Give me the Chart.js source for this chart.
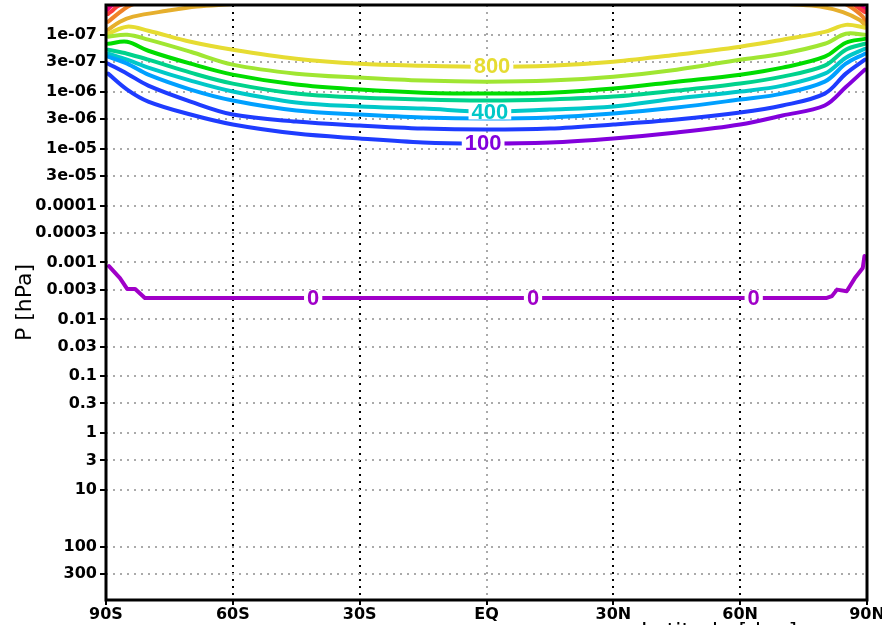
<!DOCTYPE html>
<html>
<head>
<meta charset="utf-8">
<script src="https://cdn.jsdelivr.net/npm/chart.js@4/dist/chart.umd.min.js"></script>
<style>
    html, body { margin: 0; padding: 0; background: #fff; overflow: hidden; }
    #chart { display: block; }
</style>
</head>
<body>
<canvas id="chart" width="882" height="645" style="width:882px;height:645px"></canvas>
<script>
// latitude grid the contours were read at (deg, S negative)
const lats = [-89.5, -85, -80, -70, -60, -45, -30, -15, 0, 15, 30, 45, 60, 70, 80, 85, 89.5];
const lats100 = [-89.5, -85, -80, -70, -60, -45, -30, -15, -2, 15, 30, 45, 60, 70, 80, 85, 89.5];

// contour pressures in hPa, one array per level
const p800 = [9.6e-8, 7.2e-8, 8.5e-8, 1.33e-7, 1.83e-7, 2.63e-7, 3.22e-7, 3.49e-7, 3.63e-7, 3.49e-7, 2.97e-7, 2.24e-7, 1.62e-7, 1.22e-7, 8.9e-8, 6.7e-8, 7.5e-8];
const p700 = [1.08e-7, 1.0e-7, 1.22e-7, 1.99e-7, 3.35e-7, 4.82e-7, 5.66e-7, 6.39e-7, 6.66e-7, 6.39e-7, 5.44e-7, 4.10e-7, 2.74e-7, 2.15e-7, 1.44e-7, 9.6e-8, 1.0e-7];
const p600 = [1.44e-7, 1.33e-7, 1.91e-7, 3.22e-7, 5.02e-7, 7.51e-7, 9.18e-7, 1.04e-6, 1.08e-6, 1.04e-6, 8.81e-7, 6.66e-7, 5.02e-7, 3.78e-7, 2.43e-7, 1.38e-7, 1.18e-7];
const p500 = [1.83e-7, 2.15e-7, 2.74e-7, 4.63e-7, 7.21e-7, 1.08e-6, 1.27e-6, 1.37e-6, 1.43e-6, 1.37e-6, 1.22e-6, 9.56e-7, 7.21e-7, 5.44e-7, 3.49e-7, 1.83e-7, 1.44e-7];
const p400 = [2.15e-7, 2.74e-7, 3.78e-7, 6.39e-7, 9.95e-7, 1.55e-6, 1.82e-6, 1.98e-6, 2.23e-6, 2.06e-6, 1.82e-6, 1.32e-6, 9.95e-7, 7.82e-7, 4.82e-7, 2.53e-7, 1.76e-7];
const p300 = [2.43e-7, 3.22e-7, 5.02e-7, 9.18e-7, 1.43e-6, 2.14e-6, 2.52e-6, 2.84e-6, 2.96e-6, 2.84e-6, 2.42e-6, 1.90e-6, 1.37e-6, 1.08e-6, 6.66e-7, 3.22e-7, 2.15e-7];
const p200 = [3.22e-7, 4.82e-7, 7.82e-7, 1.49e-6, 2.52e-6, 3.34e-6, 3.93e-6, 4.44e-6, 4.62e-6, 4.44e-6, 3.77e-6, 3.08e-6, 2.32e-6, 1.75e-6, 1.08e-6, 4.82e-7, 2.74e-7];
const p100 = [4.82e-7, 9.18e-7, 1.49e-6, 2.52e-6, 3.77e-6, 5.44e-6, 6.64e-6, 7.81e-6, 8.13e-6, 7.8e-6, 6.64e-6, 5.22e-6, 3.77e-6, 2.62e-6, 1.75e-6, 8.3e-7, 4.10e-7];

// the 0 contour
const lats0 = [-89.3, -86.7, -85.0, -83.1, -80.8, 80.5, 81.7, 82.9, 85.2, 87.1, 89.0, 89.4];
const p0 = [1.16e-3, 1.88e-3, 2.92e-3, 2.92e-3, 4.2e-3, 4.2e-3, 3.9e-3, 3.0e-3, 3.2e-3, 1.9e-3, 1.25e-3, 7.7e-4];

// short contours in the polar corners (900..1200), left and right pieces
const lats900L = [-89.5, -86.7, -83.6, -75.6, -68.5, -60.7];
const p900L = [8.2e-8, 5.9e-8, 4.8e-8, 3.8e-8, 3.2e-8, 2.9e-8];
const lats900R = [71.8, 78.9, 84.3, 88.3, 89.5];
const p900R = [2.9e-8, 3.2e-8, 4.0e-8, 5.5e-8, 6.7e-8];
const lats1000L = [-89.5, -86.7, -84.8, -82];
const p1000L = [5.9e-8, 4.0e-8, 3.2e-8, 2.6e-8];
const lats1000R = [83.6, 86.0, 89.0, 89.5];
const p1000R = [2.6e-8, 3.2e-8, 4.8e-8, 5.9e-8];
const lats1100L = [-89.5, -88.3, -87.4, -86];
const p1100L = [4.3e-8, 3.65e-8, 3.2e-8, 2.9e-8];
const lats1100R = [86, 87.6, 89.5];
const p1100R = [2.6e-8, 3.2e-8, 4.0e-8];
const lats1200L = [-89.7, -89, -88];
const p1200L = [3.65e-8, 3.2e-8, 2.9e-8];
const lats1200R = [88.6, 88.8, 89.5];
const p1200R = [2.9e-8, 3.2e-8, 3.5e-8];

// contour labels
const labelTexts = ['0', '0', '0', '100', '400', '800'];
const labelLats = [-41, 11, 63.2, -0.8, 0.8, 1.3];
const labelPs = [4.2e-3, 4.2e-3, 4.2e-3, 8.1e-6, 2.23e-6, 3.6e-7];
const labelColors = ['rgb(160,0,200)', 'rgb(160,0,200)', 'rgb(160,0,200)', 'rgb(130,0,220)', 'rgb(0,200,200)', 'rgb(230,220,50)'];

// axis ticks
const xTicks = [-90, -60, -30, 0, 30, 60, 90];
const xTickLabels = ['90S', '60S', '30S', 'EQ', '30N', '60N', '90N'];
const yTicks = [1e-7, 3e-7, 1e-6, 3e-6, 1e-5, 3e-5, 1e-4, 3e-4, 1e-3, 3e-3, 0.01, 0.03, 0.1, 0.3, 1, 3, 10, 100, 300];
const yTickLabels = ['1e-07', '3e-07', '1e-06', '3e-06', '1e-05', '3e-05', '0.0001', '0.0003', '0.001', '0.003',
    '0.01', '0.03', '0.1', '0.3', '1', '3', '10', '100', '300'];

function pts(xs, ys) {
    return xs.map((x, i) => ({x: x, y: ys[i]}));
}

function contour(xs, ys, color, tension) {
    return {
        data: pts(xs, ys),
        borderColor: color,
        borderWidth: 4,
        pointRadius: 0,
        tension: tension === undefined ? 0.35 : tension,
        fill: false,
        clip: 0,
        borderCapStyle: 'round',
        borderJoinStyle: 'round'
    };
}

const line100 = contour(lats100, p100, 'rgb(130,0,220)');
// left of the label the 100 line is drawn in blue
line100.segment = {
    borderColor: ctx => ctx.p1.parsed.x <= -2 ? 'rgb(30,60,255)' : 'rgb(130,0,220)'
};

const datasets = [
    contour(lats0, p0, 'rgb(160,0,200)', 0),
    line100,
    contour(lats, p200, 'rgb(30,60,255)'),
    contour(lats, p300, 'rgb(0,160,255)'),
    contour(lats, p400, 'rgb(0,200,200)'),
    contour(lats, p500, 'rgb(0,210,140)'),
    contour(lats, p600, 'rgb(0,220,0)'),
    contour(lats, p700, 'rgb(160,230,50)'),
    contour(lats, p800, 'rgb(230,220,50)'),
    contour(lats900L, p900L, 'rgb(230,175,45)'),
    contour(lats900R, p900R, 'rgb(230,175,45)'),
    contour(lats1000L, p1000L, 'rgb(240,130,40)'),
    contour(lats1000R, p1000R, 'rgb(240,130,40)'),
    contour(lats1100L, p1100L, 'rgb(250,60,60)'),
    contour(lats1100R, p1100R, 'rgb(250,60,60)'),
    contour(lats1200L, p1200L, 'rgb(240,0,130)'),
    contour(lats1200R, p1200R, 'rgb(240,0,130)')
];

// contour labels with a white box behind them, then the frame
const labelPlugin = {
    id: 'contourLabels',
    afterDatasetsDraw(chart) {
        const ctx = chart.ctx;
        const xs = chart.scales.x, ys = chart.scales.y;
        ctx.save();
        ctx.font = 'bold 22px "Liberation Sans", Arial, sans-serif';
        ctx.textAlign = 'center';
        ctx.textBaseline = 'middle';
        for (let i = 0; i < labelTexts.length; i++) {
            const px = xs.getPixelForValue(labelLats[i]);
            const py = ys.getPixelForValue(labelPs[i]);
            const w = ctx.measureText(labelTexts[i]).width;
            ctx.fillStyle = '#fff';
            ctx.fillRect(px - w / 2 - 3, py - 8, w + 6, 16);
            ctx.fillStyle = labelColors[i];
            ctx.fillText(labelTexts[i], px, py + 1);
        }
        const a = chart.chartArea;
        ctx.strokeStyle = '#000';
        ctx.lineWidth = 3;
        ctx.strokeRect(a.left, a.top, a.right - a.left, a.bottom - a.top);
        ctx.restore();
    }
};

const tickFont = {family: '"DejaVu Sans", sans-serif', size: 16, weight: 'bold'};

new Chart(document.getElementById('chart'), {
    type: 'line',
    data: {datasets: datasets},
    options: {
        responsive: false,
        animation: false,
        layout: {padding: {top: 5, right: 15, left: 0, bottom: 0}},
        plugins: {legend: {display: false}, tooltip: {enabled: false}},
        scales: {
            x: {
                type: 'linear',
                min: -90,
                max: 90,
                afterBuildTicks: scale => { scale.ticks = xTicks.map(v => ({value: v})); },
                afterFit: scale => {
                    scale.height = 45;
                    scale.paddingLeft = 0;
                    scale.paddingRight = 0;
                },
                ticks: {
                    color: '#000',
                    font: tickFont,
                    padding: 0,
                    maxRotation: 0,
                    callback: (v, i) => xTickLabels[i]
                },
                grid: {
                    color: ctx => (ctx.tick && ctx.tick.value === 0) ? '#aaaaaa' : '#000',
                    lineWidth: ctx => (ctx.tick && Math.abs(ctx.tick.value) === 90) ? 0 : 2,
                    tickColor: '#000',
                    tickBorderDash: [],
                    tickLength: 5,
                    tickWidth: 2
                },
                border: {display: false, dash: [2, 5]},
                title: {
                    display: true,
                    align: 'end',
                    text: 'Latitude [deg]          ',
                    color: '#000',
                    font: {family: '"DejaVu Sans", sans-serif', size: 22},
                    padding: {top: 0, bottom: 0}
                }
            },
            y: {
                type: 'logarithmic',
                reverse: true,
                min: 3.2e-8,
                max: 850,
                afterBuildTicks: scale => { scale.ticks = yTicks.map(v => ({value: v})); },
                afterFit: scale => {
                    scale.width = 106;
                    scale.paddingTop = 0;
                    scale.paddingBottom = 0;
                },
                ticks: {
                    color: '#000',
                    font: tickFont,
                    padding: 3,
                    autoSkip: false,
                    callback: (v, i) => yTickLabels[i]
                },
                grid: {
                    color: '#aaaaaa',
                    lineWidth: 2,
                    tickColor: '#000',
                    tickBorderDash: [],
                    tickLength: 6,
                    tickWidth: 2
                },
                border: {display: false, dash: [2, 5]},
                title: {
                    display: true,
                    text: 'P [hPa]',
                    color: '#000',
                    font: {family: '"DejaVu Sans", sans-serif', size: 22},
                    padding: {top: 12, bottom: 0}
                }
            }
        }
    },
    plugins: [labelPlugin]
});
</script>
</body>
</html>
